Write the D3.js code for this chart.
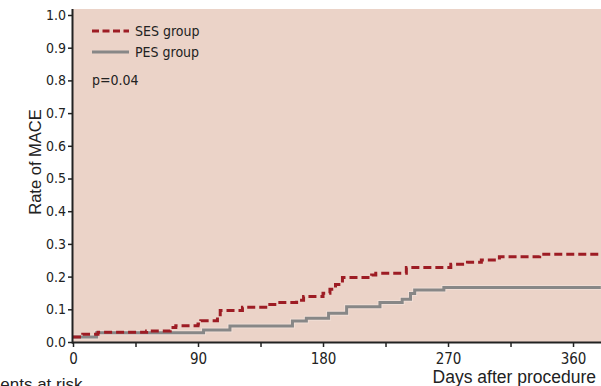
<!DOCTYPE html>
<html>
<head>
<meta charset="utf-8">
<script src="https://cdn.jsdelivr.net/npm/d3@7"></script>
<style>
  body { margin: 0; background: #fff; }
  svg { display: block; }
  .tick text { font-family: "Liberation Sans Narrow", "DejaVu Sans Condensed", sans-serif; fill: #222; }
</style>
</head>
<body>
<div class="chart"></div>
<script>
'use strict';

// Kaplan-Meier style steps
var sesDays = [0, 7, 18, 53, 70, 74, 90, 92, 104, 106, 122, 140, 147, 161, 166, 180, 185, 189, 194, 215, 218, 240, 272, 284, 294, 307, 336];
var sesRate = [0.015, 0.024, 0.030, 0.034, 0.044, 0.050, 0.055, 0.065, 0.077, 0.096, 0.106, 0.115, 0.121, 0.128, 0.139, 0.149, 0.161, 0.176, 0.197, 0.205, 0.210, 0.228, 0.238, 0.244, 0.251, 0.261, 0.268];
var pesDays = [0, 17, 94, 113, 158, 168, 184, 197, 221, 237, 243, 246, 267];
var pesRate = [0.015, 0.028, 0.037, 0.049, 0.064, 0.073, 0.088, 0.108, 0.121, 0.131, 0.148, 0.159, 0.167];
var xTicks = [0, 45, 90, 135, 180, 225, 270, 315, 360];
var yTicks = [0, 0.1, 0.2, 0.3, 0.4, 0.5, 0.6, 0.7, 0.8, 0.9, 1.0];
var lastDay = 380;

var width = 601, height = 386;
var narrow = '"Liberation Sans Narrow", "DejaVu Sans Condensed", sans-serif';
var plain = '"Liberation Sans", Arial, sans-serif';

var x = d3.scaleLinear().domain([0, lastDay]).range([73, 600.8]);
var y = d3.scaleLinear().domain([0, 1]).range([342, 15]);

var svg = d3.select('.chart').append('svg')
  .attr('width', width)
  .attr('height', height);

// plot background
svg.append('rect')
  .attr('x', 73).attr('y', 9)
  .attr('width', width - 73).attr('height', 342 - 9)
  .attr('fill', '#ebd3c8');

function toPoints(days, rates) {
  var pts = days.map(function(d, i) { return [d, rates[i]]; });
  pts.push([lastDay, rates[rates.length - 1]]);
  return pts;
}

var line = d3.line()
  .x(function(d) { return x(d[0]); })
  .y(function(d) { return y(d[1]); })
  .curve(d3.curveStepAfter);

var pes = toPoints(pesDays, pesRate);
var ses = toPoints(sesDays, sesRate);

svg.append('path').attr('d', line(pes))
  .attr('fill', 'none').attr('stroke', '#f4e6df').attr('stroke-width', 5).attr('opacity', 0.6);
svg.append('path').attr('d', line(pes))
  .attr('fill', 'none').attr('stroke', '#878787').attr('stroke-width', 3);

svg.append('path').attr('d', line(ses))
  .attr('fill', 'none').attr('stroke', '#9d1c24').attr('stroke-width', 3)
  .attr('stroke-dasharray', '8,4');

// axes
var yAxis = svg.append('g')
  .attr('transform', 'translate(73,0)')
  .call(d3.axisLeft(y).tickValues(yTicks).tickFormat(d3.format('.1f')).tickSize(5).tickPadding(2));
yAxis.select('.domain').remove();
yAxis.selectAll('.tick line').attr('stroke', '#222').attr('stroke-width', 1.5);
yAxis.selectAll('.tick text').style('font-size', '14px');

var xAxis = svg.append('g')
  .attr('transform', 'translate(0,342)')
  .call(d3.axisBottom(x).tickValues(xTicks)
    .tickFormat(function(d) { return d % 90 === 0 ? d : ''; })
    .tickSize(5).tickPadding(6));
xAxis.select('.domain').remove();
xAxis.selectAll('.tick line').attr('stroke', '#222').attr('stroke-width', 1.5);
xAxis.selectAll('.tick text').style('font-size', '15px');

svg.append('line')
  .attr('x1', 72.5).attr('x2', 72.5).attr('y1', 9).attr('y2', 343.5)
  .attr('stroke', '#222').attr('stroke-width', 2);
svg.append('line')
  .attr('x1', 72).attr('x2', width).attr('y1', 342.5).attr('y2', 342.5)
  .attr('stroke', '#222').attr('stroke-width', 2);

// legend
var legend = svg.append('g').style('font-family', narrow).style('font-size', '14px').attr('fill', '#222');
legend.append('line').attr('x1', 92).attr('x2', 129).attr('y1', 31).attr('y2', 31)
  .attr('stroke', '#9d1c24').attr('stroke-width', 3).attr('stroke-dasharray', '7,3.5');
legend.append('text').attr('x', 135).attr('y', 36).text('SES group');
legend.append('line').attr('x1', 92).attr('x2', 129).attr('y1', 52).attr('y2', 52)
  .attr('stroke', '#878787').attr('stroke-width', 3);
legend.append('text').attr('x', 135).attr('y', 57).text('PES group');
legend.append('text').attr('x', 92).attr('y', 85).text('p=0.04');

// axis titles
svg.append('text')
  .attr('transform', 'translate(41,162) rotate(-90)')
  .attr('text-anchor', 'middle')
  .style('font-family', plain).style('font-size', '16.5px').attr('fill', '#222')
  .text('Rate of MACE');
svg.append('text')
  .attr('x', 596).attr('y', 383)
  .attr('text-anchor', 'end')
  .style('font-family', plain).style('font-size', '17.5px').attr('fill', '#222')
  .text('Days after procedure');
// cut off at the left and bottom edges, as in the original figure
svg.append('text')
  .attr('x', -29).attr('y', 390)
  .style('font-family', plain).style('font-size', '17px').attr('fill', '#222')
  .text('Patients at risk');
</script>
</body>
</html>
